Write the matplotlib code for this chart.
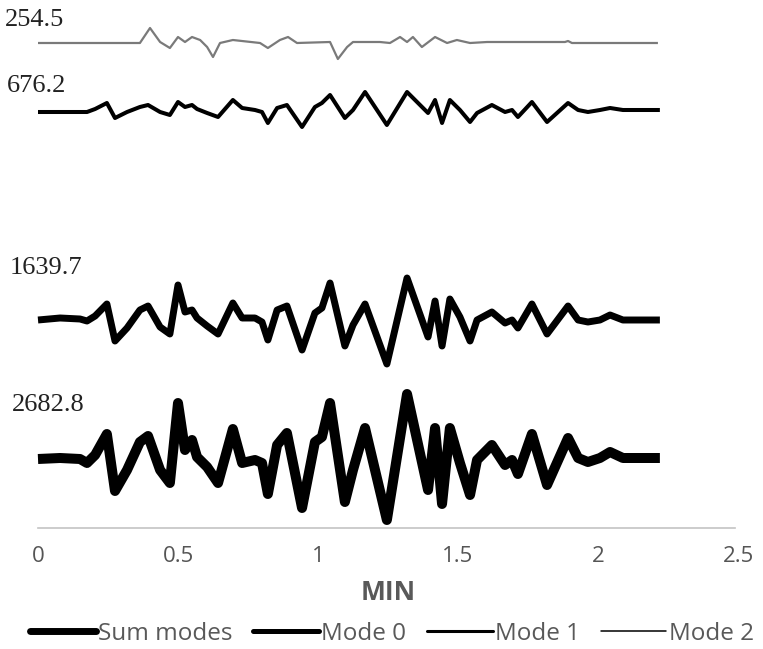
"""Stacked mode waveforms (Sum modes, Mode 0, Mode 1, Mode 2) over time in minutes."""

import matplotlib

matplotlib.use("Agg")  # Non-interactive backend
import matplotlib.pyplot as plt
from matplotlib.lines import Line2D


# time (min) shared by the sum and the two low modes
t_modes = [0.000, 0.079, 0.150, 0.175, 0.204, 0.246, 0.275, 0.318, 0.364, 0.393,
           0.436, 0.471, 0.500, 0.525, 0.550, 0.568, 0.604, 0.643, 0.696, 0.729,
           0.775, 0.800, 0.821, 0.854, 0.889, 0.943, 0.989, 1.014, 1.043, 1.096,
           1.125, 1.168, 1.246, 1.318, 1.393, 1.418, 1.443, 1.471, 1.507, 1.543,
           1.568, 1.621, 1.668, 1.693, 1.714, 1.764, 1.818, 1.893, 1.929, 1.964,
           2.007, 2.043, 2.089, 2.221]

sum_modes = [0, 1, 0, -4, 4, 25, -32, -11, 17, 23,
             -11, -24, 56, 9, 19, 2, -8, -24, 30, -4,
             -1, -4, -35, 14, 26, -49, 17, 22, 56, -43,
             -11, 31, -61, 65, -31, 31, -45, 31, -4, -36,
             -1, 14, -6, -1, -15, 25, -26, 21, 1, -3,
             1, 7, 1, 1]

mode_0 = [0, 2, 1, -1, 4, 16, -21, -8, 10, 14,
          -7, -14, 35, 8, 10, 2, -6, -14, 17, 2,
          2, -2, -20, 10, 14, -30, 7, 12, 37, -26,
          -5, 16, -44, 42, -17, 19, -26, 21, 3, -21,
          0, 8, -3, 0, -8, 16, -14, 14, 0, -2,
          0, 5, 0, 0]

mode_1 = [-1, -1, -1, -1, 2, 8, -7, -1, 4, 6,
          -1, -4, 9, 4, 6, 2, -2, -6, 11, 3,
          1, -1, -12, 3, 6, -16, 4, 8, 16, -7,
          1, 19, -14, 19, -2, 11, -12, 11, 1, -11,
          -2, 6, -1, 1, -6, 9, -11, 8, 1, -1,
          1, 3, 1, 1]

t_mode_2 = [0.000, 0.364, 0.400, 0.436, 0.471, 0.500, 0.525, 0.550, 0.579, 0.604,
            0.625, 0.650, 0.696, 0.793, 0.821, 0.864, 0.893, 0.925, 1.043, 1.071,
            1.104, 1.125, 1.221, 1.257, 1.293, 1.318, 1.339, 1.371, 1.418, 1.461,
            1.496, 1.543, 1.604, 1.882, 1.893, 1.907, 2.214]

mode_2 = [0, 0, 15, 1, -5, 6, 1, 6, 3, -4,
          -14, 0, 3, 0, -5, 3, 6, 0, 1, -16,
          -4, 1, 1, 0, 6, 1, 6, -4, 6, 0,
          3, 0, 1, 1, 2, 0, 0]

peak_labels = ["2682.8", "1639.7", "676.2", "254.5"]
series_names = ["Sum modes", "Mode 0", "Mode 1", "Mode 2"]
x_ticks = [0, 0.5, 1, 1.5, 2, 2.5]

# layout: vertical offset of each trace and where its label sits (figure px)
OFFSETS = [69, 208, 417, 485]
LABEL_POS = [(12, 405), (10, 268), (7, 86), (5, 20)]
PLOT_WIDTHS = [7.2, 5.0, 2.9, 1.6]
LEGEND_WIDTHS = [5.0, 3.6, 2.2, 1.1]
COLORS = ["black", "black", "black", "#7a7a7a"]

W, H = 763, 649

fig = plt.figure(figsize=(W / 100, H / 100), dpi=100)
ax = fig.add_axes([38 / W, 1 - 528 / H, 700 / W, 528 / H])

traces = [(t_modes, sum_modes), (t_modes, mode_0), (t_modes, mode_1), (t_mode_2, mode_2)]
for (t, vals), off, lw, col in zip(traces, OFFSETS, PLOT_WIDTHS, COLORS):
    ax.plot(t, [v + off for v in vals], color=col, lw=lw,
            solid_joinstyle="round", solid_capstyle="butt", clip_on=False)

for label, (px, py) in zip(peak_labels, LABEL_POS):
    fig.text(px / W, 1 - py / H, label, family="Liberation Serif", fontsize=19,
             color="#222222", ha="left", va="center")

ax.set_xlim(0, 2.5)
ax.set_ylim(0, 528)
ax.set_xticks(x_ticks)
ax.set_xticklabels([f"{v:g}" for v in x_ticks])
ax.set_yticks([])
for side in ("left", "right", "top"):
    ax.spines[side].set_visible(False)
ax.spines["bottom"].set_color("#c4c4c4")
ax.spines["bottom"].set_linewidth(1.2)
ax.spines["bottom"].set_bounds(0, 2.49)
ax.tick_params(axis="x", length=0, pad=13, labelsize=16, labelcolor="#555555")
for lab in ax.get_xticklabels():
    lab.set_family("Open Sans")

ax.set_xlabel("MIN", family="Open Sans", fontsize=19, fontweight="bold", color="#595959")
ax.xaxis.set_label_coords(0.5, (528 - 593) / 528)
ax.xaxis.label.set_va("center")

handles = [Line2D([], [], color="black", lw=lw, solid_capstyle="round")
           for lw in LEGEND_WIDTHS]
fig.legend(handles, series_names, loc="center", bbox_to_anchor=(392 / W, 1 - 634 / H),
           ncol=4, frameon=False, handlelength=2.7, handletextpad=0.1,
           columnspacing=0.85, prop={"family": "Open Sans", "size": 17.5},
           labelcolor="#595959")

fig.savefig("out.png", dpi=100)
plt.close(fig)
